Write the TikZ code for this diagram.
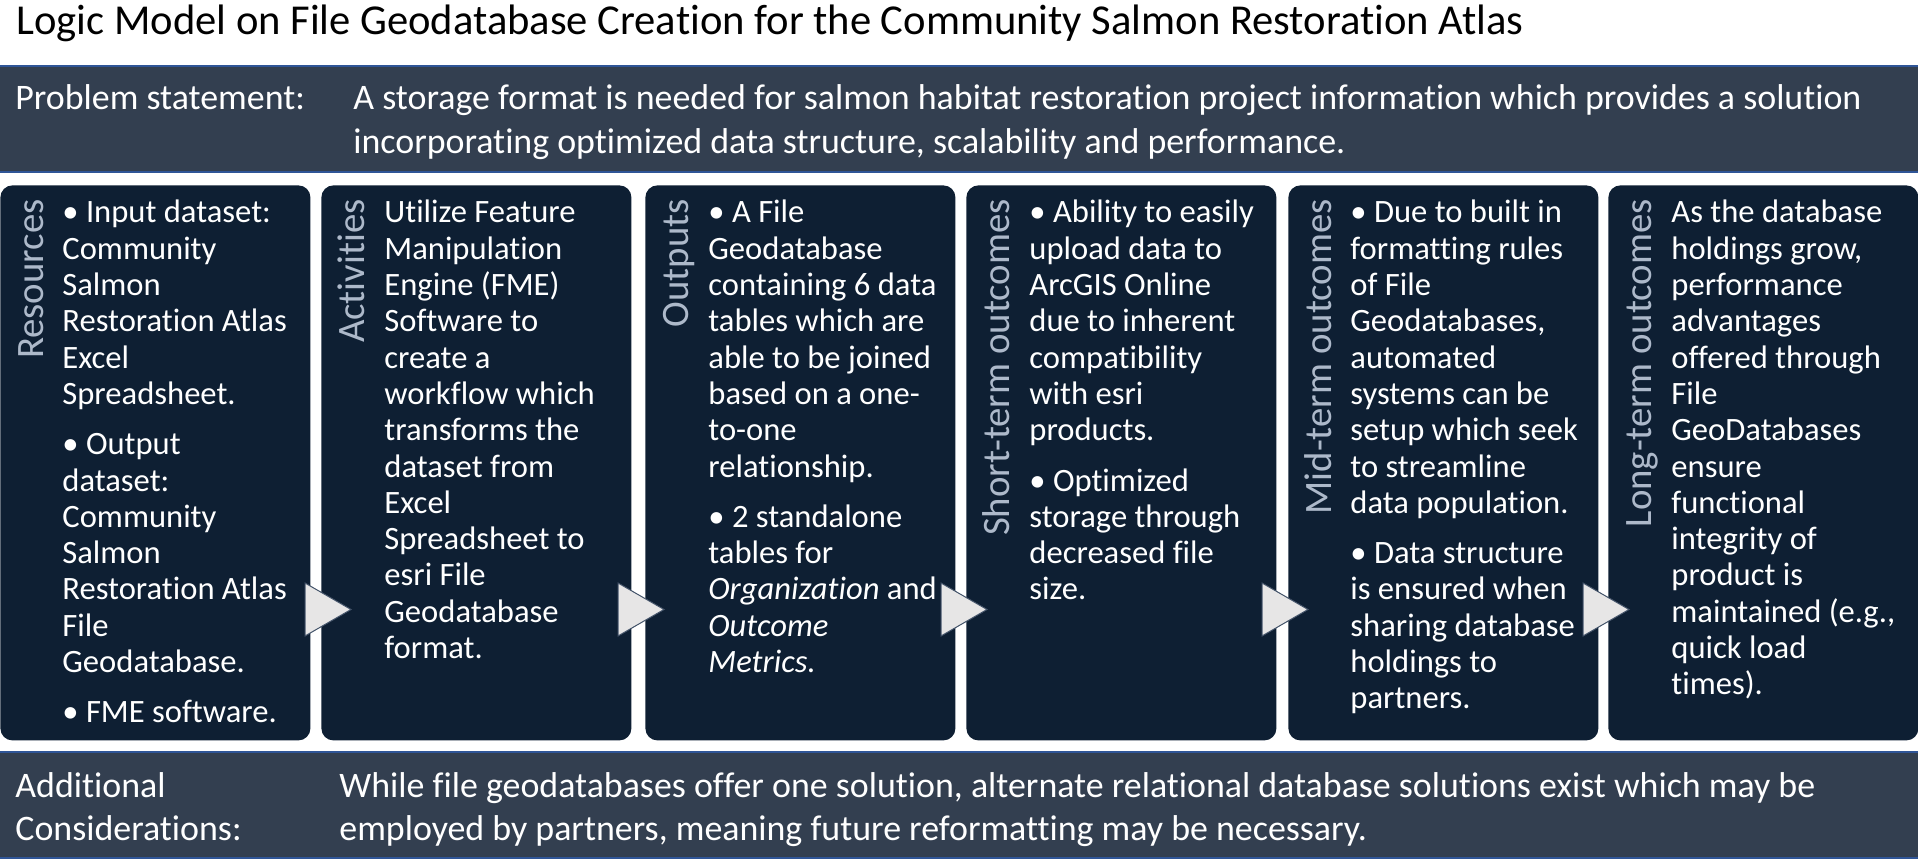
\documentclass[tikz,border=0pt]{standalone}
\usepackage{fontspec}
\setmainfont{Carlito}[Ligatures=NoCommon]
\definecolor{boxfill}{HTML}{0E1F33}
\definecolor{bandfill}{HTML}{333F50}
\definecolor{bandline}{HTML}{2F5597}
\definecolor{labelcol}{HTML}{ADB9CA}
\definecolor{arrowfill}{HTML}{E7E6E6}
\definecolor{arrowline}{HTML}{44546A}
\newcommand{\toplines}[1]{\begin{tabular}[t]{@{}l@{}}#1\end{tabular}}
\begin{document}
\begin{tikzpicture}[x=0.5pt,y=-0.5pt,
  box/.style={fill=boxfill, rounded corners=6pt, minimum width=155pt, minimum height=277.5pt, inner sep=0pt, anchor=north west},
  boxtext/.style={text=white, anchor=base west, inner sep=0pt, font=\fontsize{16.3pt}{18.15pt}\selectfont},
  boxlabel/.style={text=labelcol, rotate=90, anchor=base east, inner sep=0pt, font=\fontsize{19.4pt}{22pt}\selectfont},
  bandtext/.style={text=white, anchor=base west, inner sep=0pt, font=\fontsize{17.95pt}{21.6pt}\selectfont},
  band/.style={fill=bandfill},
  bandedge/.style={draw=bandline, line width=1.25pt},
  flowarrow/.style={fill=arrowfill, draw=arrowline, line width=0.5pt, line join=miter}
]
\useasboundingbox (0,0) rectangle (1918,866);
\fill[white] (0,0) rectangle (1918,866);

% title
\node[anchor=base west, inner sep=0pt, font=\fontsize{21.3pt}{25pt}\selectfont] (title) at (16,35)
  {Logic Model on File Geodatabase Creation for the Community Salmon Restoration Atlas};

% problem band
\fill[band] (0,66) rectangle (1918,172);
\draw[bandedge] (0,66) -- (1918,66);
\draw[bandedge] (0,172) -- (1918,172);
\node[bandtext] (problabel) at (15,110) {Problem statement:};
\node[bandtext] (probtext) at (353,110) {\toplines{A storage format is needed for salmon habitat restoration project information which provides a solution\\incorporating optimized data structure, scalability and performance.}};

% boxes
\node[box] (res) at (0,185) {};
\node[box] (act) at (321,185) {};
\node[box] (out) at (645,185) {};
\node[box] (sho) at (966,185) {};
\node[box] (mid) at (1288,185) {};
\node[box] (lon) at (1608,185) {};

% labels
\node[boxlabel] (reslab) at (43,199) {Resources};
\node[boxlabel] (actlab) at (364,199) {Activities};
\node[boxlabel] (outlab) at (688,199) {Outputs};
\node[boxlabel] (sholab) at (1009,199) {Short-term outcomes};
\node[boxlabel] (midlab) at (1331,199) {Mid-term outcomes};
\node[boxlabel] (lonlab) at (1651,199) {Long-term outcomes};

% box texts
\node[boxtext] (restext) at (62,223) {\toplines{• Input dataset:\\Community\\Salmon\\Restoration Atlas\\Excel\\Spreadsheet.\\[7pt]• Output\\dataset:\\Community\\Salmon\\Restoration Atlas\\File\\Geodatabase.\\[7pt]• FME software.}};
\node[boxtext] (acttext) at (384,223) {\toplines{Utilize Feature\\Manipulation\\Engine (FME)\\Software to\\create a\\workflow which\\transforms the\\dataset from\\Excel\\Spreadsheet to\\esri File\\Geodatabase\\format.}};
\node[boxtext] (outtext) at (708,223) {\toplines{• A File\\Geodatabase\\containing 6 data\\tables which are\\able to be joined\\based on a one-\\to-one\\relationship.\\[7pt]• 2 standalone\\tables for\\\textit{Organization} and\\\textit{Outcome}\\\textit{Metrics.}}};
\node[boxtext] (shotext) at (1029,223) {\toplines{• Ability to easily\\upload data to\\ArcGIS Online\\due to inherent\\compatibility\\with esri\\products.\\[7pt]• Optimized\\storage through\\decreased file\\size.}};
\node[boxtext] (midtext) at (1350,223) {\toplines{• Due to built in\\formatting rules\\of File\\Geodatabases,\\automated\\systems can be\\setup which seek\\to streamline\\data population.\\[7pt]• Data structure\\is ensured when\\sharing database\\holdings to\\partners.}};
\node[boxtext] (lontext) at (1671,223) {\toplines{As the database\\holdings grow,\\performance\\advantages\\offered through\\File\\GeoDatabases\\ensure\\functional\\integrity of\\product is\\maintained (e.g.,\\quick load\\times).}};

% arrows
\foreach \ax in {305,618,941,1262,1583}{
  \draw[flowarrow] (\ax,583) -- (\ax+46,609.5) -- (\ax,636) -- cycle;
}

% bottom band
\fill[band] (0,752) rectangle (1918,858);
\draw[bandedge] (0,752) -- (1918,752);
\draw[bandedge] (0,858) -- (1918,858);
\node[bandtext] (addlabel) at (15,797) {\toplines{Additional\\Considerations:}};
\node[bandtext] (addtext) at (339,797) {\toplines{While file geodatabases offer one solution, alternate relational database solutions exist which may be\\employed by partners, meaning future reformatting may be necessary.}};
\end{tikzpicture}
\end{document}
